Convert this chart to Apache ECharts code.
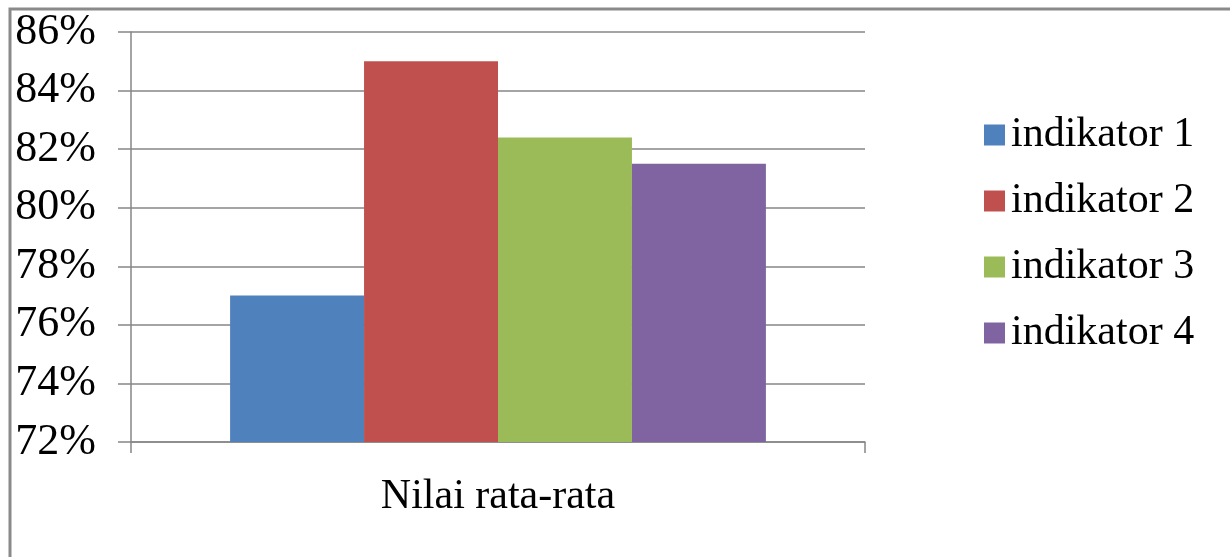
<!DOCTYPE html>
<html><head><meta charset="utf-8">
<script src="https://cdn.jsdelivr.net/npm/echarts@6/dist/echarts.min.js"></script>
<style>html,body{margin:0;padding:0;background:#fff}#c{width:1230px;height:557px}</style>
</head><body><div id="c"></div>
<script>
const categories = ['Nilai rata-rata'];
const seriesNames = ['indikator 1', 'indikator 2', 'indikator 3', 'indikator 4'];
const indikator1 = [77.0];
const indikator2 = [85.0];
const indikator3 = [82.4];
const indikator4 = [81.5];
const seriesValues = [indikator1, indikator2, indikator3, indikator4];
const colors = ['#4F81BD', '#C0504D', '#9BBB59', '#8064A2'];
const font = '"Liberation Serif", "DejaVu Serif", serif';

const chart = echarts.init(document.getElementById('c'), null, {renderer: 'canvas'});
chart.setOption({
  animation: false,
  color: colors,
  graphic: [{
    type: 'rect', silent: true, z: 100,
    shape: {x: 10, y: 9, width: 1240, height: 570},
    style: {fill: 'none', stroke: '#8a8a8a', lineWidth: 3}
  }],
  grid: {left: 131, right: 365, top: 32, bottom: 115},
  legend: {
    orient: 'vertical', left: 979, top: 109,
    icon: 'rect', itemWidth: 21, itemHeight: 21, itemGap: 24,
    textStyle: {fontFamily: font, fontSize: 42, color: '#000', lineHeight: 40, padding: [0, 0, 0, 1]},
    data: seriesNames
  },
  xAxis: {
    type: 'category', data: categories,
    axisLine: {lineStyle: {color: '#868686', width: 1.5}},
    axisTick: {show: true, length: 11, lineStyle: {color: '#868686', width: 1.5}},
    axisLabel: {fontFamily: font, fontSize: 42, color: '#000', margin: 34}
  },
  yAxis: {
    type: 'value', min: 72, max: 86, interval: 2,
    axisLine: {show: true, lineStyle: {color: '#868686', width: 1.5}},
    axisTick: {show: true, length: 13, lineStyle: {color: '#868686', width: 1.5}},
    splitLine: {lineStyle: {color: '#868686', width: 1.5}},
    axisLabel: {fontFamily: font, fontSize: 44, color: '#000', margin: 35, formatter: '{value}%'}
  },
  series: seriesNames.map((n, i) => ({
    name: n, type: 'bar', data: seriesValues[i],
    barGap: '0%', barCategoryGap: '27%'
  }))
});
</script></body></html>
